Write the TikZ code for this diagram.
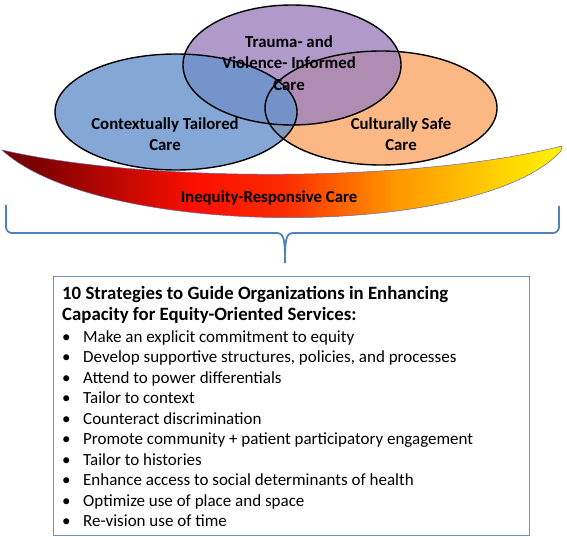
\documentclass[tikz,border=0pt]{standalone}
\usepackage{fontspec}
\setmainfont{Carlito}
\usetikzlibrary{shapes.geometric}
\definecolor{cblue}{RGB}{105,148,205}
\definecolor{cpurple}{RGB}{158,132,190}
\definecolor{corange}{RGB}{250,168,105}
\definecolor{dred}{RGB}{125,0,0}
\definecolor{bred}{RGB}{250,15,0}
\definecolor{borange}{RGB}{255,150,0}
\definecolor{byellow}{RGB}{255,238,0}
\definecolor{bracecol}{RGB}{79,129,189}
\definecolor{boxcol}{RGB}{110,148,196}
\pgfdeclarehorizontalshading{bannershade}{100bp}{color(0bp)=(dred); color(25bp)=(dred); color(28bp)=(dred); color(42bp)=(bred); color(50bp)=(bred!80!borange); color(60bp)=(borange); color(74bp)=(byellow); color(100bp)=(byellow)}
\tikzset{
  venn/.style={ellipse, inner sep=0pt, fill opacity=0.82},
  vlabel/.style={font=\fontsize{16.8}{21.5}\selectfont\bfseries, align=center, inner sep=0pt},
  btext/.style={font=\fontsize{17}{20}\selectfont, anchor=base west, inner sep=0pt},
  ttext/.style={font=\fontsize{18.8}{21}\selectfont\bfseries, anchor=base west, inner sep=0pt},
}
\begin{document}
\begin{tikzpicture}[x=1pt,y=-1pt]
\useasboundingbox (0,0) rectangle (567,537);
% banner
\shade[shading=bannershade, draw=black!60!blue!60, line width=0.5pt]
  (2,150) .. controls (150,184) and (420,182) .. (562,146)
  .. controls (562,148) .. (561,151)
  .. controls (480,240) and (100,240) .. (2,150) -- cycle;
\node[font=\fontsize{16.8}{20}\selectfont\bfseries, inner sep=0pt] (bantext) at (269,198) {Inequity-Responsive Care};
% ellipses fills
\node[venn, fill=corange, minimum width=232pt, minimum height=114pt] (orange) at (381,108) {};
\node[venn, fill=cpurple, minimum width=218pt, minimum height=120pt] (purple) at (292,65) {};
\node[venn, fill=cblue, minimum width=242pt, minimum height=116pt] (blue) at (176,112) {};
% outlines
\draw[line width=1.4pt] (orange.center) ellipse [x radius=116, y radius=57];
\draw[line width=1.4pt] (purple.center) ellipse [x radius=109, y radius=60];
\draw[line width=1.4pt] (blue.center) ellipse [x radius=121, y radius=58];
% labels
\node[vlabel] (tlab) at (289,63) {Trauma- and\\Violence- Informed\\Care};
\node[vlabel] (clab) at (165,134) {Contextually Tailored\\Care};
\node[vlabel] (slab) at (401,134) {Culturally Safe\\Care};
% brace
\coordinate (bl) at (6,205);
\coordinate (br) at (559,206);
\coordinate (tip) at (285,263);
\draw[bracecol, line width=1.8pt, rounded corners=6pt] (bl) -- (6,233) -- (276,233);
\draw[bracecol, line width=1.8pt, rounded corners=6pt] (br) -- (559,233) -- (294,233);
\draw[bracecol, line width=1.8pt] (276,233) .. controls (284,233) and (285,238) .. (tip);
\draw[bracecol, line width=1.8pt] (294,233) .. controls (286,233) and (285,238) .. (tip);
% box
\node[draw=boxcol, line width=1.2pt, minimum width=476pt, minimum height=259pt, inner sep=0pt, anchor=north west] (box) at (53,276) {};
\node[ttext] (t1) at (62,299) {10 Strategies to Guide Organizations in Enhancing};
\node[ttext] (t2) at (62,320) {Capacity for Equity-Oriented Services:};
\foreach \y/\t [count=\i] in {
  342/Make an explicit commitment to equity,
  362.5/{Develop supportive structures, policies, and processes},
  383/Attend to power differentials,
  403.5/Tailor to context,
  424/Counteract discrimination,
  444.5/Promote community + patient participatory engagement,
  465/Tailor to histories,
  485.5/Enhance access to social determinants of health,
  506/Optimize use of place and space,
  526.5/Re-vision use of time}{
  \node[btext] (bul\i) at (62,\y) {•};
  \node[btext] (item\i) at (83,\y) {\t};
}
\end{tikzpicture}
\end{document}
